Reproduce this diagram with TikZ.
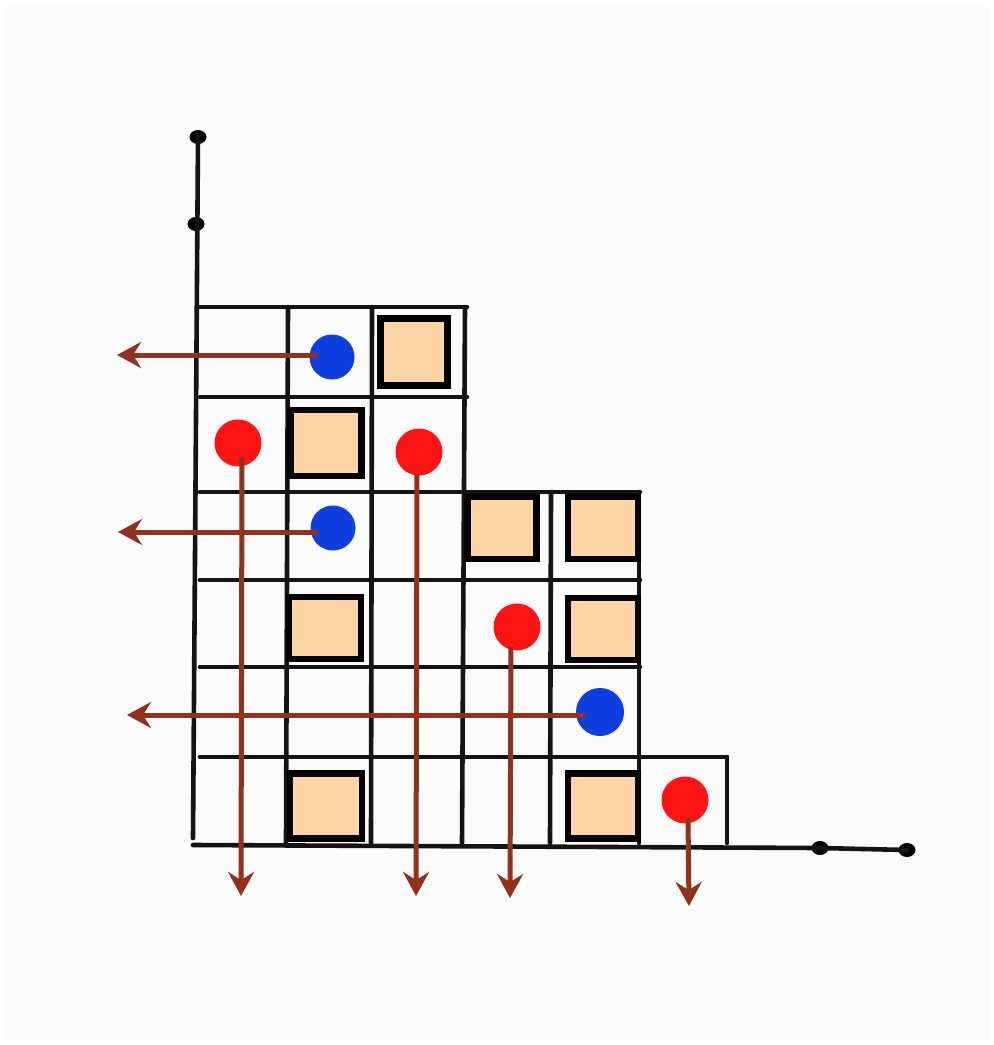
\documentclass[tikz,border=0pt]{standalone}
\usetikzlibrary{arrows.meta}
\definecolor{peach}{HTML}{FFD5A6}
\definecolor{mred}{HTML}{FF1414}
\definecolor{mblue}{HTML}{0F3FE0}
\definecolor{mbrown}{HTML}{92321C}
\definecolor{paper}{HTML}{FBFBFB}
\tikzset{
  grid/.style={line width=4.6pt, black!92, line cap=round},
  sq/.style={draw=black, fill=peach, line width=6.5pt, minimum width=67pt, minimum height=62pt, inner sep=0pt, outer sep=0pt},
  rdot/.style={circle, fill=mred, minimum size=47pt, inner sep=0pt},
  bdot/.style={circle, fill=mblue, minimum size=45pt, inner sep=0pt},
  adot/.style={ellipse, fill=black, minimum width=17pt, minimum height=14pt, inner sep=0pt},
  arr/.style={draw=mbrown, line width=5pt, -{Stealth[length=24pt, width=26pt, inset=8pt]}},
}
\usetikzlibrary{shapes.geometric}
\begin{document}
\begin{tikzpicture}[x=1pt, y=-1pt]
\useasboundingbox (0,0) rectangle (994,1045);
\fill[white] (0,0) rectangle (994,1045);
\fill[paper] (7,7) rectangle (990,1040);

% axes
\node[adot] (ytop) at (198,137) {};
\node[adot] (ymid) at (196,224) {};
\node[adot] (xmid) at (820,848) {};
\node[adot] (xend) at (907,850) {};
\coordinate (origin) at (193,845);
\draw[grid] (ytop.center) -- (193,838);
\draw[grid] (origin) -- (xmid.center) -- (xend.center);

% horizontal grid lines
\draw[grid] (200,307) -- (467,307);
\draw[grid] (200,397) -- (467,397);
\draw[grid] (200,492) -- (640,492);
\draw[grid] (200,580) -- (640,580);
\draw[grid] (200,667) -- (640,667);
\draw[grid] (200,757) -- (727,757);
% vertical grid lines
\draw[grid] (288,307) -- (286,843);
\draw[grid] (372,307) -- (371,843);
\draw[grid] (465,307) -- (462,843);
\draw[grid] (551,492) -- (550,843);
\draw[grid] (639,492) -- (639,843);
\draw[grid] (727,757) -- (727,843);

% squares
\node[sq, minimum height=67pt] (s1) at (414,352) {};
\node[sq, minimum width=71pt, minimum height=66pt] (s2) at (326,443) {};
\node[sq, minimum width=69pt] (s3) at (502,528) {};
\node[sq, minimum width=70pt] (s4) at (603,528) {};
\node[sq, minimum width=72pt, minimum height=62pt] (s5) at (325,628) {};
\node[sq, minimum width=70pt, minimum height=62pt] (s6) at (603,629) {};
\node[sq, minimum width=72pt, minimum height=65pt] (s7) at (326,806) {};
\node[sq, minimum width=70pt, minimum height=65pt] (s8) at (603,806) {};

% arrows end points
\coordinate (b1end) at (117,355);
\coordinate (b2end) at (118,532);
\coordinate (b3end) at (127,715);
\coordinate (r1end) at (241,896);
\coordinate (r2end) at (416,896);
\coordinate (r3end) at (510,898);
\coordinate (r4end) at (689,906);

% dots
\node[bdot] (b1) at (332,357) {};
\node[bdot] (b2) at (333,528) {};
\node[bdot, minimum size=48pt] (b3) at (600,712) {};
\node[rdot] (r1) at (238,443) {};
\node[rdot] (r2) at (419,452) {};
\node[rdot] (r3) at (517,627) {};
\node[rdot] (r4) at (685,800) {};

% arrows
\draw[arr] (b1.center) ++(-14,-2) -- (b1end);
\draw[arr] (b2.center) ++(-15,4) -- (b2end);
\draw[arr] (b3.center) ++(-15,3) -- (b3end);
\draw[arr] (r1.center) ++(4,14) -- (r1end);
\draw[arr] (r2.center) ++(-2,22) -- (r2end);
\draw[arr] (r3.center) ++(-6,20) -- (r3end);
\draw[arr] (r4.center) ++(3,18) -- (r4end);
\end{tikzpicture}
\end{document}
